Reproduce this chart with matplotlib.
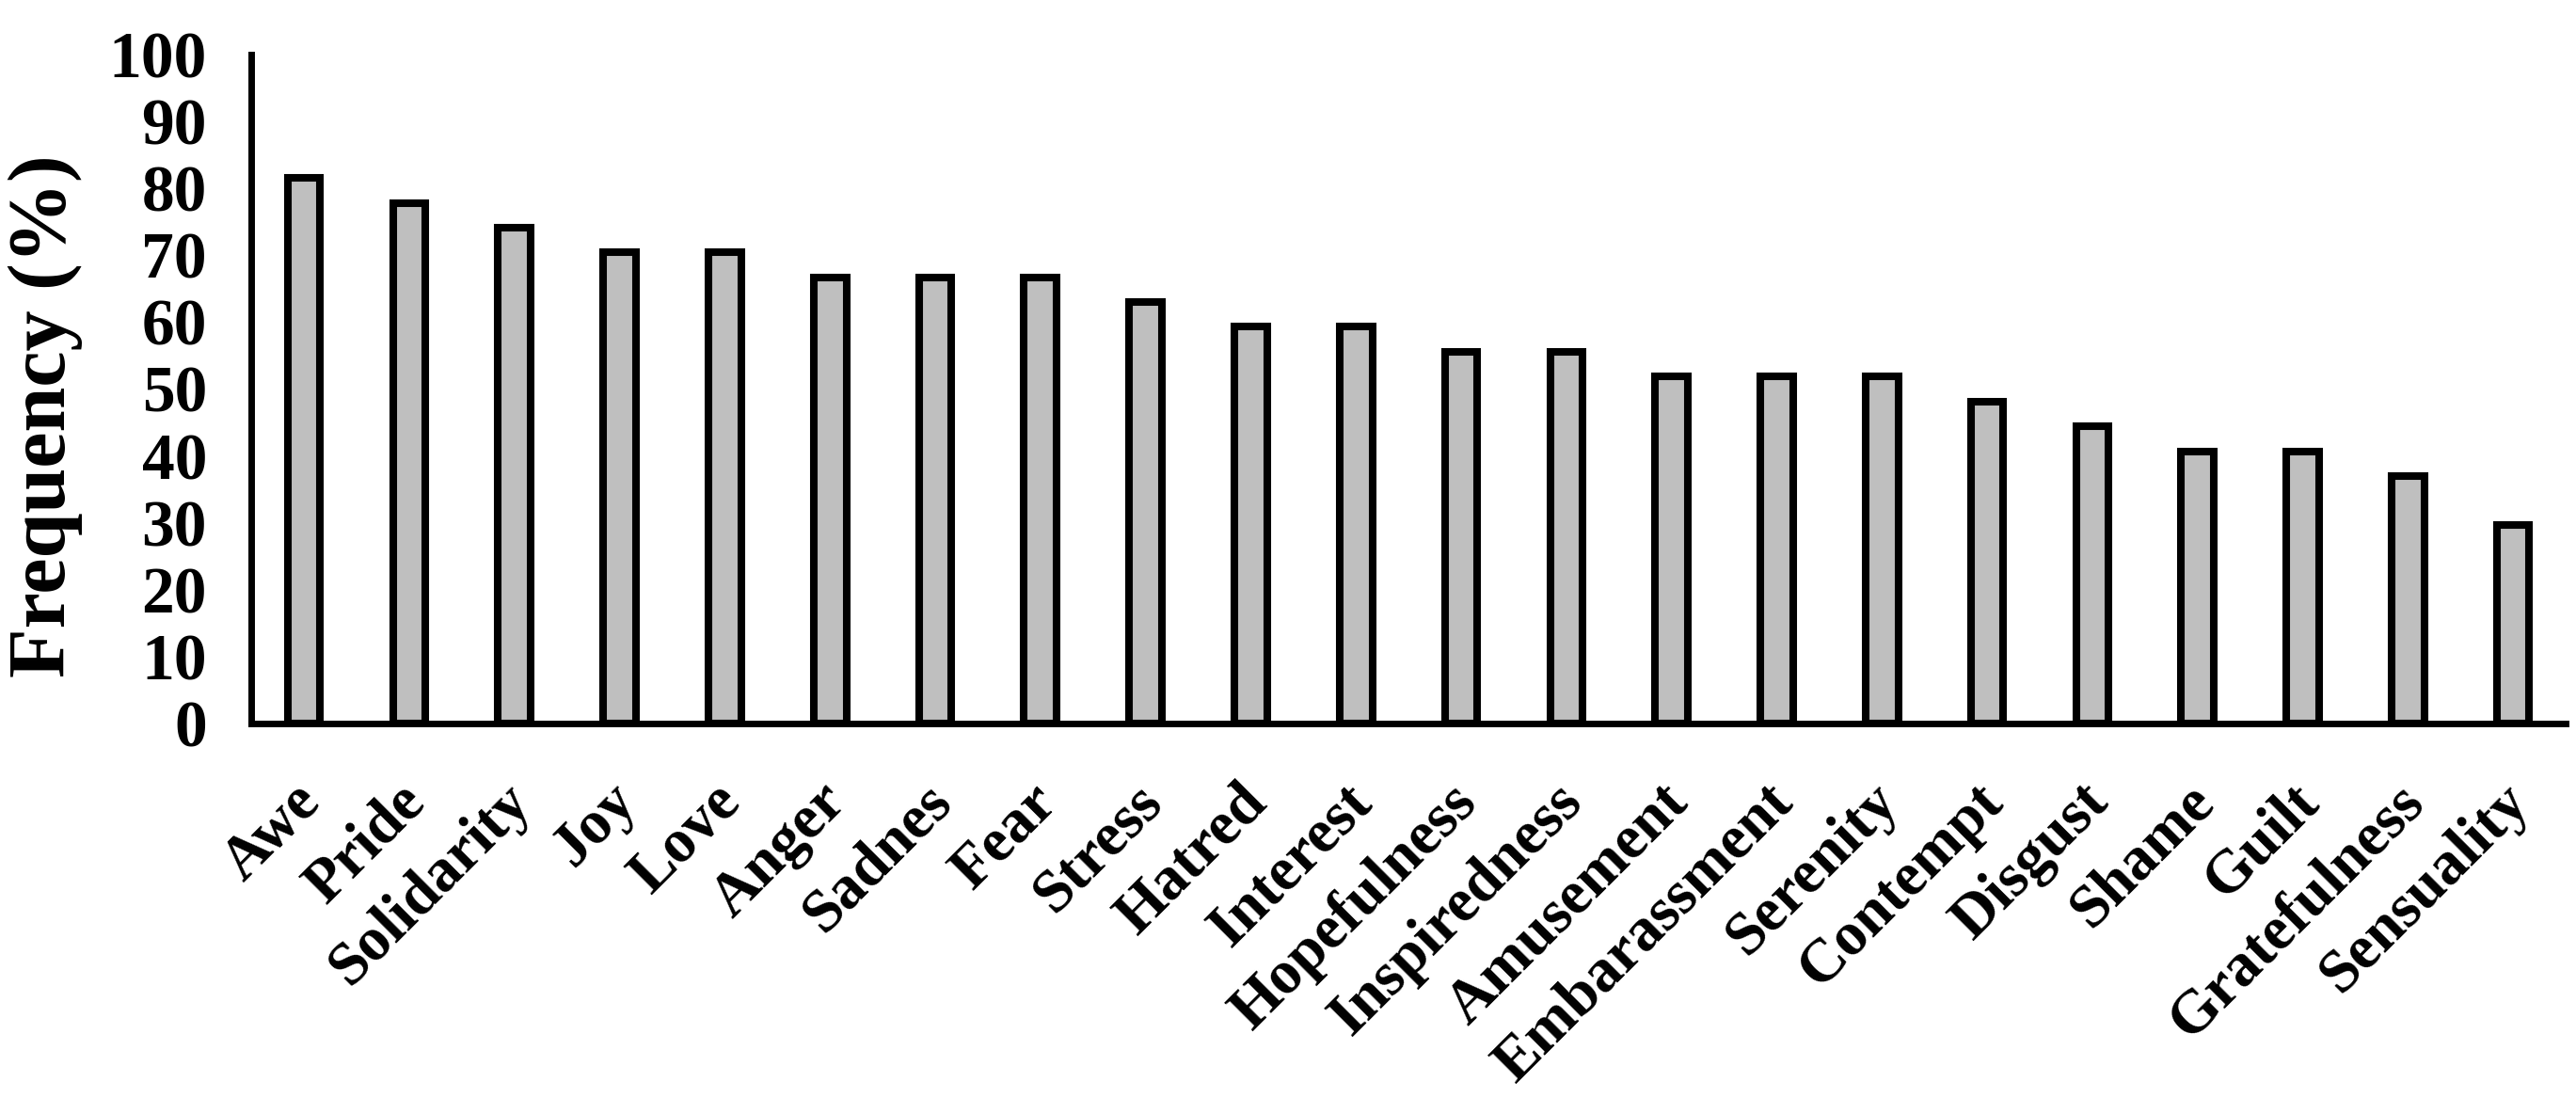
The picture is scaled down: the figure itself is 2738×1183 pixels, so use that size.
import matplotlib
matplotlib.use("Agg")
import matplotlib.pyplot as plt
import matplotlib.transforms as mtransforms
import numpy as np

categories = ["Awe", "Pride", "Solidarity", "Joy", "Love", "Anger", "Sadnes", "Fear",
              "Stress", "Hatred", "Interest", "Hopefulness", "Inspiredness", "Amusement",
              "Embarassment", "Serenity", "Contempt", "Disgust", "Shame", "Guilt",
              "Gratefulness", "Sensuality"]
values = [81.5, 77.8, 74.1, 70.4, 70.4, 66.7, 66.7, 66.7, 63.0, 59.3, 59.3, 55.6, 55.6,
          51.9, 51.9, 51.9, 48.1, 44.4, 40.7, 40.7, 37.0, 29.6]
yticks = list(range(0, 101, 10))

plt.rcParams['font.family'] = ['Liberation Serif', 'DejaVu Serif']
plt.rcParams['font.weight'] = 'bold'

fig = plt.figure(figsize=(27.38, 11.83), dpi=100)
ax = fig.add_axes([0.0976, 0.350, 0.8984, 0.601])

x = np.arange(len(categories))
ax.bar(x, values, width=0.31, color='#bfbfbf', edgecolor='black', linewidth=5.8, zorder=2)

ax.set_xlim(-0.5, len(categories) - 0.5)
ax.set_ylim(0, 100)
ax.set_yticks(yticks)
ax.set_yticklabels([str(t) for t in yticks], fontsize=50, fontweight='bold')
ax.set_xticks(x)
ax.set_xticklabels(categories, rotation=45, ha='right', rotation_mode='anchor',
                   fontsize=47, fontweight='bold')
ax.tick_params(axis='y', length=0, pad=34)
ax.tick_params(axis='x', length=0, pad=33)

offset = mtransforms.ScaledTranslation(-0.13, -0.07, fig.dpi_scale_trans)
for lbl in ax.get_xticklabels():
    lbl.set_transform(lbl.get_transform() + offset)

for s in ['top', 'right']:
    ax.spines[s].set_visible(False)
for s in ['left', 'bottom']:
    ax.spines[s].set_linewidth(5)
    ax.spines[s].set_zorder(3)

ax.set_ylabel("Frequency (%)", fontsize=62, fontweight='bold')
ax.yaxis.set_label_coords(-0.073, 0.46)

fig.savefig("out.png", dpi=100, facecolor='white')
